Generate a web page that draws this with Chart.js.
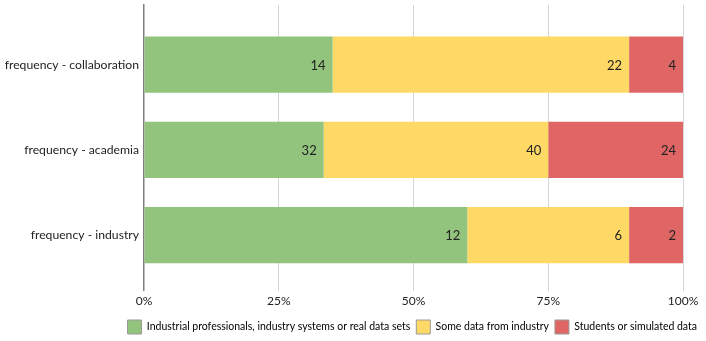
<!DOCTYPE html>
<html>
<head>
<meta charset="utf-8">
<script src="https://cdn.jsdelivr.net/npm/chart.js@4"></script>
<style>
  html, body { margin: 0; padding: 0; background: #fff; }
  #wrap { width: 706px; height: 341px; }
</style>
</head>
<body>
<div id="wrap"><canvas id="myChart" width="706" height="341"></canvas></div>
<script>
const categories = ["frequency - collaboration", "frequency - academia", "frequency - industry"];
const seriesNames = [
  "Industrial professionals, industry systems or real data sets",
  "Some data from industry",
  "Students or simulated data"
];
const realData = [14, 32, 12];
const someIndustry = [22, 40, 6];
const students = [4, 24, 2];
const tickLabels = ["0%", "25%", "50%", "75%", "100%"];

const colors = ["#93c47d", "#ffd966", "#e06666"];
const counts = [realData, someIndustry, students];
const totals = categories.map((_, i) => counts.reduce((s, arr) => s + arr[i], 0));
const FONT = "Lato, 'Open Sans', sans-serif";

// draws the raw counts at the inner right end of each segment
const endLabels = {
  id: "endLabels",
  afterDatasetsDraw(chart) {
    const ctx = chart.ctx;
    ctx.save();
    ctx.font = "13px " + FONT;
    ctx.fillStyle = "#222";
    ctx.textAlign = "right";
    ctx.textBaseline = "middle";
    chart.data.datasets.forEach((ds, di) => {
      chart.getDatasetMeta(di).data.forEach((bar, i) => {
        ctx.fillText(String(ds.counts[i]), bar.x - 7, bar.y + 1);
      });
    });
    ctx.restore();
  }
};

// nudge the legend a bit right/down, like the original
const legendShift = {
  id: "legendShift",
  afterLayout(chart) {
    const lg = chart.legend;
    if (!lg) return;
    lg.left += 20; lg.right += 20;
    lg.top += 3; lg.bottom += 3;
    lg.adjustHitBoxes();
  }
};

async function main() {
  const ctx = document.getElementById("myChart").getContext("2d");

  const chartOptions = {
    type: "bar",
    data: {
      datasets: counts.map((arr, d) => ({
        label: seriesNames[d],
        counts: arr,
        data: arr.map((v, i) => ({ y: i, x: (v / totals[i]) * 100 })),
        backgroundColor: colors[d],
        borderWidth: 0,
        barPercentage: 0.66,
        categoryPercentage: 1.0,
      })),
    },
    options: {
      indexAxis: "y",
      responsive: false,
      animation: false,
      layout: { padding: { top: 5, right: 23, left: 0, bottom: 0 } },
      scales: {
        x: {
          stacked: true,
          min: 0,
          max: 100,
          border: { display: false },
          grid: {
            color: (c) => (c.tick && c.tick.value === 0 ? "rgba(0,0,0,0)" : "#d6d6d6"),
            lineWidth: 1,
            drawTicks: false,
          },
          ticks: {
            stepSize: 25,
            padding: 3,
            color: "#222",
            font: { family: FONT, size: 12 },
            callback: (v) => tickLabels[v / 25],
          },
        },
        y: {
          type: "linear",
          stacked: true,
          reverse: true,
          offset: false,
          min: -0.7,
          max: 2.65,
          afterFit: (scale) => {
            scale.width = 144;
            scale.paddingTop = 0;
            scale.paddingBottom = 0;
          },
          border: { display: true, color: "#808080", width: 1.5 },
          grid: { display: false, drawTicks: false },
          ticks: {
            stepSize: 1,
            includeBounds: false,
            padding: 5,
            color: "#222",
            font: { family: FONT, size: 12.2 },
            callback: (v) => (Number.isInteger(v) && categories[v] ? categories[v] : ""),
          },
        },
      },
      plugins: {
        legend: {
          position: "bottom",
          align: "end",
          labels: {
            boxWidth: 14,
            boxHeight: 14,
            padding: 6,
            color: "#222",
            font: { family: FONT, size: 10.5 },
            generateLabels: (chart) =>
              chart.data.datasets.map((ds, i) => ({
                text: ds.label,
                fillStyle: ds.backgroundColor,
                strokeStyle: "#999",
                lineWidth: 1,
                datasetIndex: i,
              })),
          },
        },
        tooltip: { enabled: false },
      },
    },
    plugins: [endLabels, legendShift],
  };

  new Chart(ctx, chartOptions);
}
main();
</script>
</body>
</html>
